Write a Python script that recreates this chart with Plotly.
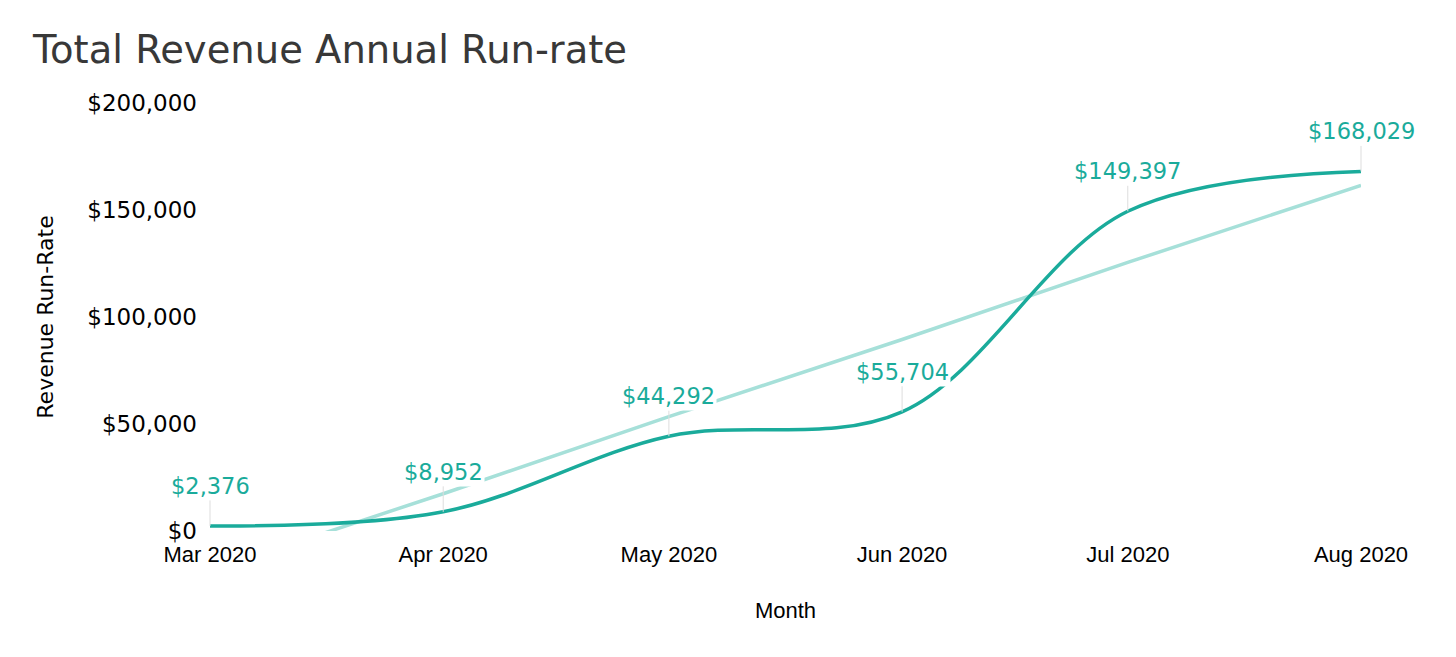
import numpy as np
import plotly.graph_objects as go

months = ["2020-03-01", "2020-04-01", "2020-05-01", "2020-06-01", "2020-07-01", "2020-08-01"]
revenue = [2376, 8952, 44292, 55704, 149397, 168029]
labels = ["$2,376", "$8,952", "$44,292", "$55,704", "$149,397", "$168,029"]
y_ticks = [0, 50000, 100000, 150000, 200000]
y_tick_text = ["$0", "$50,000", "$100,000", "$150,000", "$200,000"]

MAIN = "#1aab9b"
TREND = "#a6e0d9"
VERDANA = "Verdana, DejaVu Sans, sans-serif"
ARIAL = "Arial, Liberation Sans, sans-serif"

# OLS trendline over the month index
idx = np.arange(len(revenue))
slope, intercept = np.polyfit(idx, revenue, 1)
trend = slope * idx + intercept

fig = go.Figure()
fig.add_trace(go.Scatter(x=months, y=trend, mode="lines",
                         line=dict(color=TREND, width=3.5), hoverinfo="skip"))
fig.add_trace(go.Scatter(x=months, y=revenue, mode="lines",
                         line=dict(color=MAIN, width=3.5, shape="spline", smoothing=1.0)))

for m, v, t in zip(months, revenue, labels):
    fig.add_annotation(x=m, y=v, text=t, showarrow=True, arrowhead=0, arrowwidth=1,
                       arrowcolor="#dddddd", ax=0, ay=-40, bgcolor="white",
                       font=dict(family=VERDANA, size=22.5, color=MAIN))

W, H = 1448, 649
fig.update_layout(
    width=W, height=H,
    paper_bgcolor="white", plot_bgcolor="white",
    showlegend=False,
    margin=dict(l=202, r=95, t=95, b=126),
    title=dict(text="Total Revenue Annual Run-rate", x=25/W, xref="container",
               xanchor="left", y=1-42/H, yref="container", yanchor="middle",
               font=dict(family=VERDANA, size=38.5, color="#383838")),
    xaxis=dict(range=[months[0], months[-1]], tickformat="%b %Y", dtick="M1",
               showgrid=False, zeroline=False, showline=False, ticklabelstandoff=8,
               tickfont=dict(family=ARIAL, size=22, color="black"),
               title=dict(text="Month", font=dict(family=ARIAL, size=22, color="black"),
                          standoff=36)),
    yaxis=dict(range=[0, 200000], tickmode="array", tickvals=y_ticks, ticktext=y_tick_text,
               showgrid=False, zeroline=False, showline=False, ticklabelstandoff=12,
               tickfont=dict(family=VERDANA, size=23, color="black"),
               title=dict(text="Revenue Run-Rate", font=dict(family=VERDANA, size=22, color="black"),
                          standoff=27)),
)

fig.write_html("out.html")
